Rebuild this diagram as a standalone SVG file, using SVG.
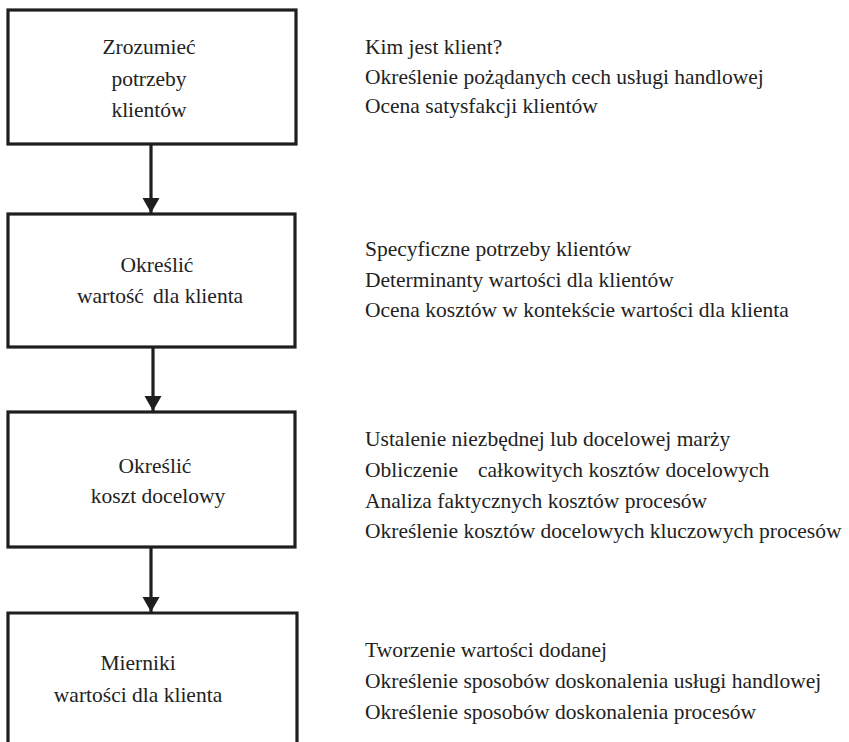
<svg xmlns="http://www.w3.org/2000/svg" width="849" height="742" viewBox="0 0 849 742">
<style>
.box{fill:#fff;stroke:#1e1e1e;stroke-width:3.2}
.line{stroke:#1e1e1e;stroke-width:3.2;fill:none}
.t{font-family:"Liberation Serif","Times New Roman",serif;font-size:21.5px;fill:#222}
.c{text-anchor:middle}
</style>
<defs>
<marker id="ah" markerUnits="userSpaceOnUse" markerWidth="18" markerHeight="18" refX="15" refY="8.5" orient="auto">
<path d="M0,0 L15,8.5 L0,17 Z" fill="#1e1e1e"/>
</marker>
</defs>
<rect width="849" height="742" fill="#fff"/>
<g id="connectors">
<line class="line" x1="151" y1="145" x2="151" y2="213" marker-end="url(#ah)"/>
<line class="line" x1="153" y1="348" x2="153" y2="411" marker-end="url(#ah)"/>
<line class="line" x1="151" y1="548" x2="151" y2="612" marker-end="url(#ah)"/>
</g>
<g id="node1">
<rect class="box" x="8" y="10" width="288" height="134"/>
<text class="t c" x="149" y="54">Zrozumieć</text>
<text class="t c" x="149" y="86">potrzeby</text>
<text class="t c" x="149" y="117">klientów</text>
</g>
<g id="node2">
<rect class="box" x="8" y="214" width="287" height="133"/>
<text class="t c" x="157" y="272">Określić</text>
<text class="t" x="77" y="303">wartość<tspan x="153">dla klienta</tspan></text>
</g>
<g id="node3">
<rect class="box" x="8" y="412" width="287" height="135"/>
<text class="t c" x="155" y="473">Określić</text>
<text class="t c" x="158" y="503">koszt docelowy</text>
</g>
<g id="node4">
<path class="box" d="M8,760 L8,613 L297,613 L297,760"/>
<text class="t c" x="138" y="670">Mierniki</text>
<text class="t c" x="138" y="702">wartości dla klienta</text>
</g>
<g id="notes1">
<text class="t" x="365" y="54">Kim jest klient?</text>
<text class="t" x="365" y="84">Określenie pożądanych cech usługi handlowej</text>
<text class="t" x="365" y="113">Ocena satysfakcji klientów</text>
</g>
<g id="notes2">
<text class="t" x="365" y="256">Specyficzne potrzeby klientów</text>
<text class="t" x="365" y="287">Determinanty wartości dla klientów</text>
<text class="t" x="365" y="317">Ocena kosztów w kontekście wartości dla klienta</text>
</g>
<g id="notes3">
<text class="t" x="365" y="446">Ustalenie niezbędnej lub docelowej marży</text>
<text class="t" x="365" y="477">Obliczenie<tspan x="478">całkowitych kosztów docelowych</tspan></text>
<text class="t" x="365" y="508">Analiza faktycznych kosztów procesów</text>
<text class="t" x="365" y="538">Określenie kosztów docelowych kluczowych procesów</text>
</g>
<g id="notes4">
<text class="t" x="365" y="657">Tworzenie wartości dodanej</text>
<text class="t" x="365" y="688">Określenie sposobów doskonalenia usługi handlowej</text>
<text class="t" x="365" y="719">Określenie sposobów doskonalenia procesów</text>
</g>
</svg>
